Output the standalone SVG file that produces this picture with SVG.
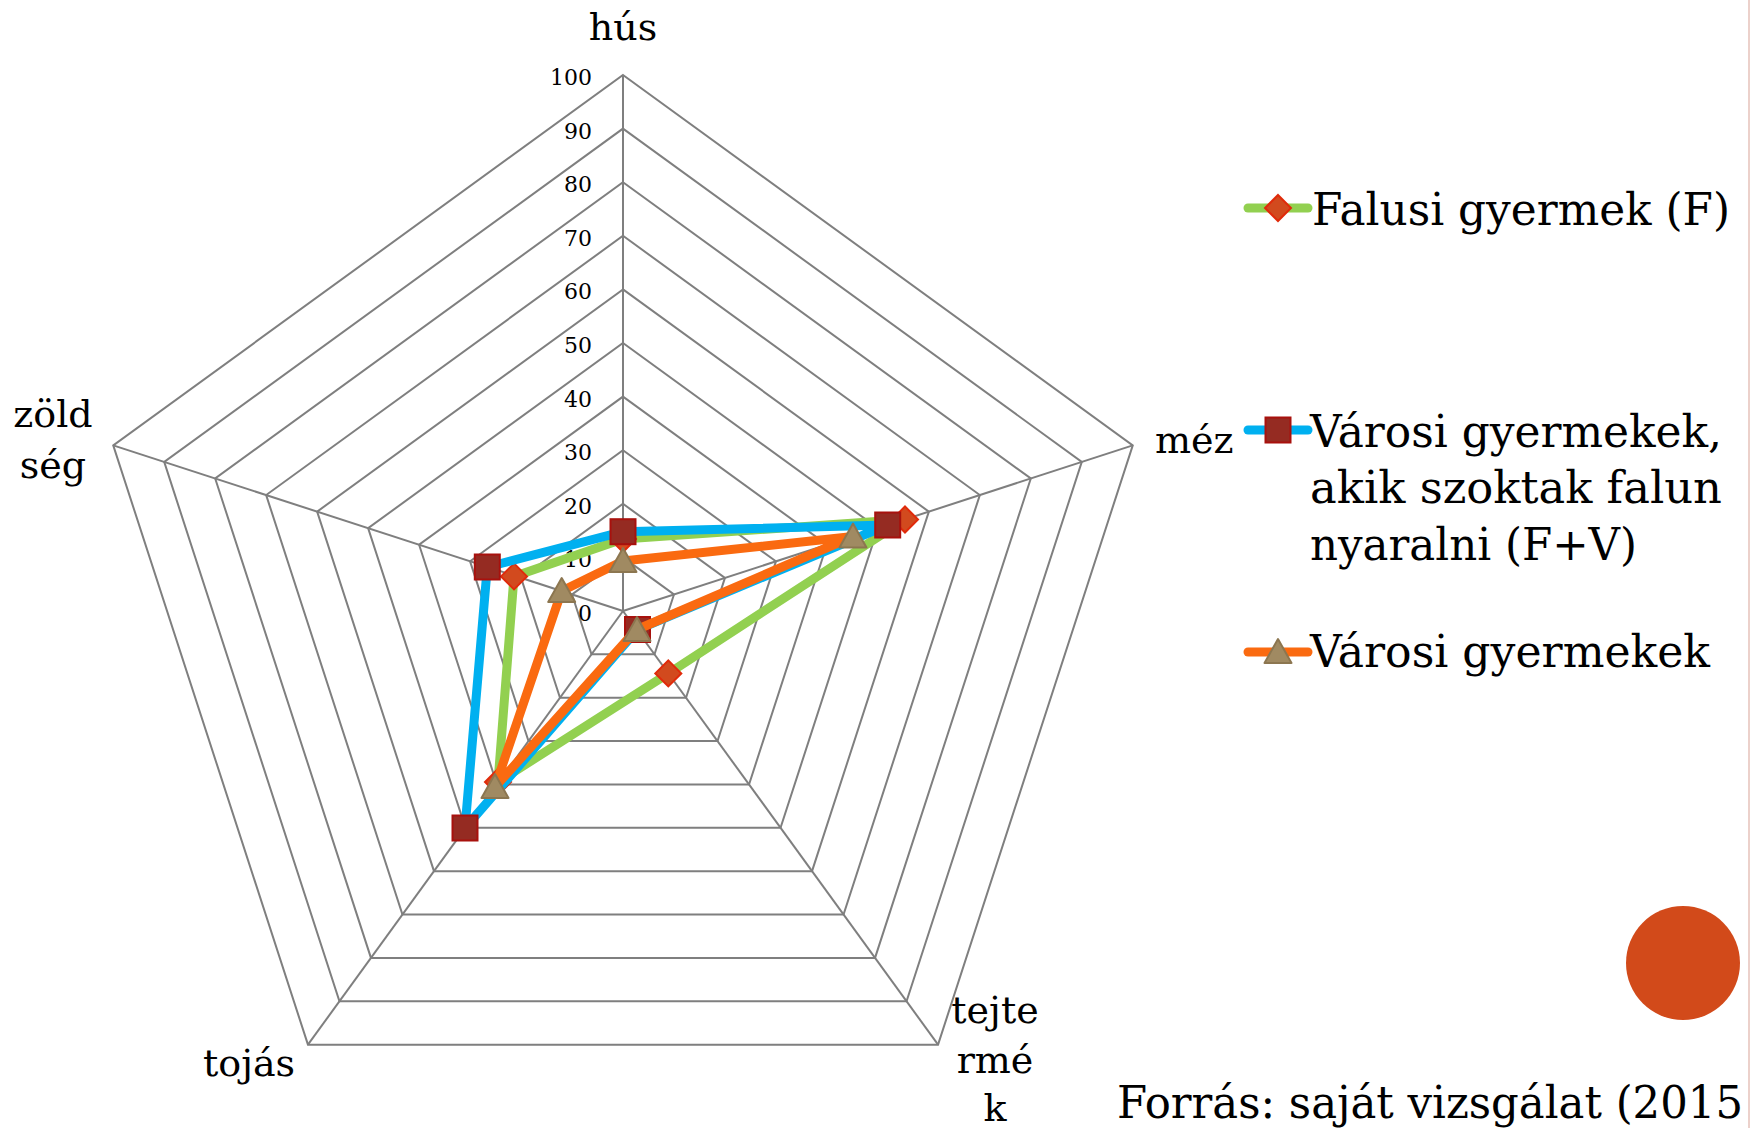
<svg xmlns="http://www.w3.org/2000/svg" xmlns:xlink="http://www.w3.org/1999/xlink" width="1750" height="1128" viewBox="0 0 1750 1128">
<style>
.grid{fill:none;stroke:#7f7f7f;stroke-width:2;stroke-linejoin:miter}
.axis{stroke:#7f7f7f;stroke-width:2}
.tick{font-family:"DejaVu Serif","Liberation Serif",serif;font-size:22px;fill:#000;text-anchor:end}
.lab{font-family:"DejaVu Serif","Liberation Serif",serif;font-size:38px;fill:#000}
.leg{font-family:"DejaVu Serif","Liberation Serif",serif;font-size:44px;fill:#000}
.s{fill:none;stroke-width:9;stroke-linejoin:round;stroke-linecap:round}
.g{stroke:#92d050}.b{stroke:#00b0f0}.o{stroke:#fa6a10}
</style>
<defs>
<polygon id="dia" points="0,-13 13,0 0,13 -13,0" fill="#d24a1e" stroke="#e02a0a" stroke-width="2"/>
<rect id="sq" x="-12.5" y="-12.5" width="25" height="25" fill="#952b22" stroke="#a8110d" stroke-width="2"/>
<polygon id="tri" points="0,-13 13.5,11 -13.5,11" fill="#a08a62" stroke="#8c7650" stroke-width="2" stroke-linejoin="round"/>
</defs>
<rect width="1750" height="1128" fill="#fff"/>
<line x1="1749" y1="0" x2="1749" y2="1128" stroke="#e6c2ba" stroke-width="1.5"/>

<g id="grid">
<polygon class="grid" points="623,557.4 673.98,594.44 654.51,654.36 591.49,654.36 572.02,594.44"/>
<polygon class="grid" points="623,503.8 724.95,577.87 686.01,697.73 559.99,697.73 521.05,577.87"/>
<polygon class="grid" points="623,450.2 775.93,561.31 717.52,741.09 528.48,741.09 470.07,561.31"/>
<polygon class="grid" points="623,396.6 826.91,544.75 749.02,784.45 496.98,784.45 419.09,544.75"/>
<polygon class="grid" points="623,343 877.88,528.18 780.53,827.82 465.47,827.82 368.12,528.18"/>
<polygon class="grid" points="623,289.4 928.86,511.62 812.03,871.18 433.97,871.18 317.14,511.62"/>
<polygon class="grid" points="623,235.8 979.84,495.06 843.54,914.54 402.46,914.54 266.16,495.06"/>
<polygon class="grid" points="623,182.2 1030.81,478.49 875.04,957.9 370.96,957.9 215.19,478.49"/>
<polygon class="grid" points="623,128.6 1081.79,461.93 906.55,1001.27 339.45,1001.27 164.21,461.93"/>
<polygon class="grid" points="623,75 1132.77,445.37 938.05,1044.63 307.95,1044.63 113.23,445.37"/>
<line class="axis" x1="623" y1="611" x2="623" y2="75"/>
<line class="axis" x1="623" y1="611" x2="1132.77" y2="445.37"/>
<line class="axis" x1="623" y1="611" x2="938.05" y2="1044.63"/>
<line class="axis" x1="623" y1="611" x2="307.95" y2="1044.63"/>
<line class="axis" x1="623" y1="611" x2="113.23" y2="445.37"/>
</g>

<g id="ticks">
<text class="tick" x="592" y="621">0</text>
<text class="tick" x="592" y="567.4">10</text>
<text class="tick" x="592" y="513.8">20</text>
<text class="tick" x="592" y="460.2">30</text>
<text class="tick" x="592" y="406.6">40</text>
<text class="tick" x="592" y="353">50</text>
<text class="tick" x="592" y="299.4">60</text>
<text class="tick" x="592" y="245.8">70</text>
<text class="tick" x="592" y="192.2">80</text>
<text class="tick" x="592" y="138.6">90</text>
<text class="tick" x="592" y="85">100</text>
</g>

<g id="axis-labels">
<text class="lab" x="623" y="40" text-anchor="middle">hús</text>
<text class="lab" x="1155" y="453">méz</text>
<text class="lab" x="995" y="1023" text-anchor="middle">tejte</text>
<text class="lab" x="995" y="1073" text-anchor="middle">rmé</text>
<text class="lab" x="995" y="1121" text-anchor="middle">k</text>
<text class="lab" x="203" y="1076">tojás</text>
<text class="lab" x="53" y="427" text-anchor="middle">zöld</text>
<text class="lab" x="53" y="478" text-anchor="middle">ség</text>
</g>

<g id="connectors">
<g id="series-F">
<polygon class="s g" points="623,539 905,519.5 668.3,673.4 498,782 514,576.4"/>
<use href="#dia" x="623" y="539"/>
<use href="#dia" x="905" y="519.5"/>
<use href="#dia" x="668.3" y="673.4"/>
<use href="#dia" x="498" y="782"/>
<use href="#dia" x="514" y="576.4"/>
</g>
<g id="series-FV">
<polygon class="s b" points="623,531.7 887.7,525 637.5,629.5 465,828 487.3,567"/>
<use href="#sq" x="623" y="531.7"/>
<use href="#sq" x="887.7" y="525"/>
<use href="#sq" x="637.5" y="629.5"/>
<use href="#sq" x="465" y="828"/>
<use href="#sq" x="487.3" y="567"/>
</g>
<g id="series-V">
<polygon class="s o" points="623,561 853,536.5 636,630 495,787 561.7,591"/>
<use href="#tri" x="623" y="561"/>
<use href="#tri" x="853" y="536.5"/>
<use href="#tri" x="637" y="630"/>
<use href="#tri" x="495" y="787"/>
<use href="#tri" x="561.7" y="591"/>
</g>
</g>

<g id="legend-F">
<line class="s g" x1="1248" y1="208" x2="1308" y2="208"/>
<use href="#dia" x="1278" y="208"/>
<text class="leg" x="1312" y="225" textLength="418" lengthAdjust="spacingAndGlyphs">Falusi gyermek (F)</text>
</g>
<g id="legend-FV">
<line class="s b" x1="1248" y1="430" x2="1308" y2="430"/>
<use href="#sq" x="1278" y="430"/>
<text class="leg" x="1310" y="447" textLength="412" lengthAdjust="spacingAndGlyphs">Városi gyermekek,</text>
<text class="leg" x="1310" y="503" textLength="412" lengthAdjust="spacingAndGlyphs">akik szoktak falun</text>
<text class="leg" x="1310" y="560" textLength="327" lengthAdjust="spacingAndGlyphs">nyaralni (F+V)</text>
</g>
<g id="legend-V">
<line class="s o" x1="1248" y1="652" x2="1308" y2="652"/>
<use href="#tri" x="1278" y="652"/>
<text class="leg" x="1310" y="667" textLength="400" lengthAdjust="spacingAndGlyphs">Városi gyermekek</text>
</g>

<circle id="dot" cx="1683" cy="963" r="57" fill="#d24a1a"/>
<text id="source" class="leg" x="1117" y="1118" textLength="626" lengthAdjust="spacingAndGlyphs">Forrás: saját vizsgálat (2015</text>
</svg>
